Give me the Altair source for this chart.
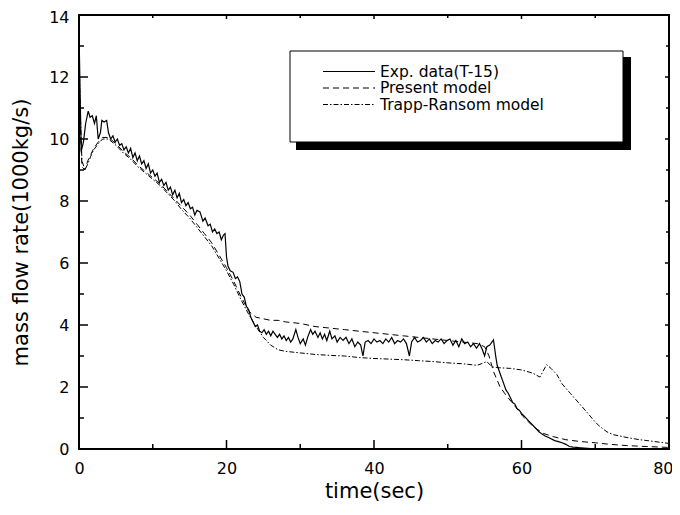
import altair as alt
import pandas as pd

# ---------------- data ----------------
EXP_T = [0, 0.15, 0.3, 0.6, 0.9, 1.25, 1.5, 1.8, 2.1, 2.35, 2.6, 2.9, 3.1, 3.4, 3.75, 4.0, 4.3, 4.6, 4.9, 5.2,
         5.5, 5.8, 6.1, 6.4, 6.7, 7.0, 7.3, 7.6, 7.9, 8.2, 8.5, 8.8, 9.1, 9.4, 9.7, 10.0, 10.3, 10.6, 10.9, 11.2,
         11.5, 11.8, 12.1, 12.4, 12.7, 13.0, 13.3, 13.6, 13.9, 14.2, 14.5, 14.8, 15.1, 15.4, 15.7, 16.0, 16.4, 16.8, 17.1, 17.5,
         17.8, 18.1, 18.4, 18.7, 19.0, 19.3, 19.6, 19.8, 20.0, 20.2, 20.5, 20.9, 21.2, 21.5, 21.8, 22.1, 22.4, 22.7, 23.0, 23.3,
         23.6, 23.9, 24.2, 24.5, 24.8, 25.1, 25.4, 25.7, 26.0, 26.3, 26.6, 26.9, 27.2, 27.5, 27.8, 28.1, 28.4, 28.7, 29.0, 29.4,
         29.7, 30.0, 30.4, 30.7, 31.0, 31.4, 31.7, 32.0, 32.4, 32.7, 33.0, 33.3, 33.6, 34.0, 34.3, 34.7, 35.0, 35.4, 35.8, 36.2,
         36.6, 37.0, 37.4, 37.8, 38.2, 38.5, 38.8, 39.2, 39.6, 40.0, 40.4, 40.8, 41.2, 41.6, 42.0, 42.4, 42.8, 43.2, 43.6, 44.0,
         44.4, 44.8, 45.1, 45.5, 45.9, 46.3, 46.7, 47.1, 47.5, 47.9, 48.3, 48.7, 49.1, 49.5, 49.9, 50.3, 50.7, 51.1, 51.5, 51.9,
         52.3, 52.7, 53.1, 53.5, 53.9, 54.3, 54.7, 55.0, 55.3, 55.7, 56.2, 56.5, 56.7, 57.0, 57.3, 57.6, 57.9, 58.2, 58.5, 58.8,
         59.1, 59.4, 59.7, 60.0, 60.4, 60.8, 61.2, 61.6, 62.0, 62.4, 62.8, 63.2, 63.6, 64.0, 64.5, 65.0, 65.5, 66.0, 66.5, 67.0,
         67.5, 68.0, 69.0, 70.0]
EXP_V = [13.5, 11.5, 9.6, 9.9, 10.5, 10.9, 10.7, 10.75, 10.5, 10.75, 10.0, 10.2, 10.6, 10.55, 10.6, 10.2, 10.0, 10.1, 9.9, 10.0,
         9.8, 9.85, 9.65, 9.75, 9.55, 9.7, 9.4, 9.55, 9.3, 9.45, 9.2, 9.3, 9.05, 9.2, 8.9, 9.0, 8.8, 8.9, 8.6, 8.7,
         8.5, 8.6, 8.35, 8.45, 8.2, 8.35, 8.1, 8.25, 7.95, 8.05, 7.85, 7.95, 7.75, 7.8, 7.55, 7.7, 7.65, 7.35, 7.45, 7.2,
         7.25, 7.0, 7.1, 6.95, 7.0, 6.75, 6.9, 6.95, 6.2, 5.9, 5.75, 5.7, 5.5, 5.55, 5.4, 5.0, 4.9, 4.6, 4.5, 4.25,
         4.1, 3.95, 4.0, 3.8, 3.75, 3.85, 3.7, 3.8, 3.65, 3.8, 3.7, 3.6, 3.7, 3.55, 3.65, 3.5, 3.6, 3.45, 3.55, 3.85,
         3.6, 3.4, 3.55, 3.35, 3.6, 3.85, 3.7, 3.8, 3.6, 3.75, 3.55, 3.7, 3.5, 3.8, 3.55, 3.65, 3.45, 3.6, 3.5, 3.6,
         3.4, 3.55, 3.3, 3.45, 3.35, 3.0, 3.45, 3.5, 3.4, 3.55, 3.45, 3.5, 3.4, 3.55, 3.45, 3.6, 3.4, 3.5, 3.45, 3.55,
         3.4, 3.0, 3.45, 3.6, 3.45, 3.5, 3.6, 3.45, 3.55, 3.4, 3.5, 3.45, 3.55, 3.4, 3.5, 3.55, 3.35, 3.5, 3.3, 3.55,
         3.4, 3.45, 3.3, 3.4, 3.25, 3.4, 3.2, 3.0, 3.3, 3.35, 3.52, 3.0, 2.7, 2.5, 2.3, 2.1, 1.9, 1.8, 1.65, 1.5,
         1.45, 1.3, 1.25, 1.15, 1.05, 0.95, 0.85, 0.75, 0.65, 0.55, 0.48, 0.42, 0.38, 0.33, 0.27, 0.24, 0.2, 0.15, 0.08, 0.06,
         0.05, 0.04, 0.02, 0.0]

PRES_T = [0, 0.15, 0.4, 0.8, 1.2, 1.6, 2.0, 2.6, 3.2, 4.0, 5.0, 6.0, 7.0, 8.0, 9.0, 10.0, 11.0, 12.0, 13.0, 14.0,
          15.0, 16.0, 17.0, 18.0, 19.0, 20.0, 21.0, 22.0, 23.0, 24.0, 25.0, 26.0, 27.0, 28.0, 30.0, 32.0, 34.0, 36.0, 38.0, 40.0,
          42.0, 44.0, 46.0, 48.0, 50.0, 52.0, 54.0, 55.0, 55.6, 56.2, 57.1, 58.0, 58.9, 60.2, 61.6, 63.0, 64.3, 66.0, 68.0, 70.0,
          72.0, 74.3, 77.0, 80.0]
PRES_V = [12.3, 10.5, 9.1, 9.0, 9.3, 9.5, 9.7, 9.9, 10.05, 10.05, 9.85, 9.6, 9.4, 9.15, 8.95, 8.75, 8.55, 8.3, 8.05, 7.8,
          7.55, 7.25, 6.95, 6.65, 6.25, 5.85, 5.4, 4.9, 4.45, 4.25, 4.2, 4.15, 4.15, 4.1, 4.05, 3.95, 3.9, 3.85, 3.8, 3.75,
          3.7, 3.65, 3.6, 3.55, 3.5, 3.45, 3.4, 3.3, 3.0, 2.5, 2.0, 1.7, 1.45, 1.05, 0.72, 0.5, 0.4, 0.3, 0.24, 0.2,
          0.15, 0.11, 0.08, 0.05]

TR_T = [0, 0.15, 0.4, 0.8, 1.2, 1.6, 2.0, 2.6, 3.2, 4.0, 5.0, 6.0, 7.0, 8.0, 9.0, 10.0, 11.0, 12.0, 13.0, 14.0,
        15.0, 16.0, 17.0, 18.0, 19.0, 20.0, 21.0, 22.0, 23.0, 24.0, 25.0, 26.0, 27.0, 28.0, 30.0, 32.0, 34.0, 36.0, 38.0, 40.0,
        42.0, 44.0, 46.0, 48.0, 50.0, 52.0, 54.0, 55.3, 56.0, 57.0, 58.5, 60.0, 61.5, 62.5, 63.4, 64.0, 64.8, 65.5, 66.6, 67.9,
        69.0, 69.7, 70.5, 71.6, 72.5, 74.3, 76.0, 77.4, 80.0]
TR_V = [13.0, 11.0, 9.3, 9.0, 9.2, 9.45, 9.65, 9.85, 10.0, 10.0, 9.8, 9.55, 9.35, 9.1, 8.9, 8.7, 8.5, 8.25, 8.0, 7.7,
        7.45, 7.15, 6.85, 6.55, 6.15, 5.75, 5.3, 4.8, 4.35, 3.95, 3.6, 3.35, 3.2, 3.15, 3.1, 3.05, 3.02, 3.0, 2.95, 2.92,
        2.9, 2.88, 2.85, 2.82, 2.78, 2.75, 2.7, 2.82, 2.65, 2.62, 2.6, 2.55, 2.45, 2.32, 2.72, 2.6, 2.4, 2.1, 1.8, 1.45,
        1.15, 0.95, 0.75, 0.55, 0.46, 0.37, 0.3, 0.26, 0.18]

X_MAJOR = [0, 20, 40, 60, 80]
X_MINOR = [10, 30, 50, 70]
Y_MAJOR = [0, 2, 4, 6, 8, 10, 12, 14]
Y_MINOR = [1, 3, 5, 7, 9, 11, 13]

LEGEND_LABELS = ["Exp. data(T-15)", "Present model", "Trapp-Ransom model"]

# ---------------- chart ----------------
W, H = 590, 434
FONT = "DejaVu Sans"
xs = alt.Scale(domain=[0, 80], nice=False, zero=False)
ys = alt.Scale(domain=[0, 14], nice=False, zero=False)

X_AXIS = alt.Axis(
    title="time(sec)", values=X_MAJOR, labelPadding=11, labelFlush=False,
    labelAlign={"condition": {"test": "datum.value == 80", "value": "right"}, "value": "center"},
    labelOffset={"condition": {"test": "datum.value == 80", "value": 4}, "value": 0},
    titleX=W / 2, titleY=42, titleBaseline="middle")
Y_AXIS = alt.Axis(
    title="mass flow rate(1000kg/s)", values=Y_MAJOR, labelPadding=10, labelFlush=False,
    labelOffset={"condition": {"test": "datum.value == 14", "value": 2}, "value": 0},
    titleX=-58, titleY=H / 2, titleBaseline="middle")

DASH = [6, 4]
DASHDOT = [5, 2, 1.5, 2]


def line(t, v, dash, width):
    df = pd.DataFrame({"t": t, "v": v})
    kw = dict(color="black", strokeWidth=width, clip=True)
    if dash:
        kw["strokeDash"] = dash
    return alt.Chart(df).mark_line(**kw).encode(
        x=alt.X("t:Q", scale=xs, axis=X_AXIS),
        y=alt.Y("v:Q", scale=ys, axis=Y_AXIS),
        order="t:Q",
    )


exp_line = line(EXP_T, EXP_V, None, 1.2)
pres_line = line(PRES_T, PRES_V, DASH, 1.0)
tr_line = line(TR_T, TR_V, DASHDOT, 1.0)


def xticks(vals, y0, y1):
    return alt.Chart(pd.DataFrame({"t": vals})).mark_rule(color="black", strokeWidth=1.5).encode(
        x=alt.X("t:Q", scale=xs, axis=X_AXIS), y=alt.value(y0), y2=alt.value(y1))


def yticks(vals, x0, x1):
    return alt.Chart(pd.DataFrame({"v": vals})).mark_rule(color="black", strokeWidth=1.5).encode(
        y=alt.Y("v:Q", scale=ys, axis=Y_AXIS), x=alt.value(x0), x2=alt.value(x1))


ticks = [
    xticks(X_MAJOR, H, H - 9), xticks(X_MINOR, H, H - 5),
    xticks(X_MAJOR, 0, 4), xticks(X_MINOR, 0, 3),
    yticks(Y_MAJOR, 0, 9), yticks(Y_MINOR, 0, 5),
    yticks(Y_MAJOR, W, W - 4), yticks(Y_MINOR, W, W - 3),
]

one = pd.DataFrame({"k": [0]})
shadow = alt.Chart(one).mark_rect(color="black").encode(
    x=alt.value(217), x2=alt.value(552), y=alt.value(42), y2=alt.value(135))
box = alt.Chart(one).mark_rect(fill="white", stroke="black", strokeWidth=1).encode(
    x=alt.value(211), x2=alt.value(544), y=alt.value(36), y2=alt.value(127))

legend_layers = []
for i, (lab, dash) in enumerate(zip(LEGEND_LABELS, [None, DASH, DASHDOT])):
    yy = 56.5 + 16.5 * i
    kw = dict(color="black", strokeWidth=1.0)
    if dash:
        kw["strokeDash"] = dash
    legend_layers.append(alt.Chart(one).mark_rule(**kw).encode(
        x=alt.value(244), x2=alt.value(296), y=alt.value(yy)))
    legend_layers.append(alt.Chart(pd.DataFrame({"label": [lab]})).mark_text(
        align="left", baseline="middle", font=FONT, fontSize=15.5, color="black"
    ).encode(text="label:N", x=alt.value(301), y=alt.value(yy)))

chart = alt.layer(
    exp_line, pres_line, tr_line, *ticks, shadow, box, *legend_layers
).properties(
    width=W, height=H,
    autosize=alt.AutoSizeParams(type="none"),
    padding={"left": 71, "top": 7, "right": 3, "bottom": 52},
).configure_view(
    stroke="black", strokeWidth=2
).configure_axis(
    grid=False, ticks=False, tickSize=0, domain=False,
    labelFont=FONT, labelFontSize=16, labelColor="black",
    titleFont=FONT, titleFontSize=21, titleFontWeight="normal", titleColor="black",
)

chart.save("out.html", embed_options={"renderer": "svg", "actions": False})
